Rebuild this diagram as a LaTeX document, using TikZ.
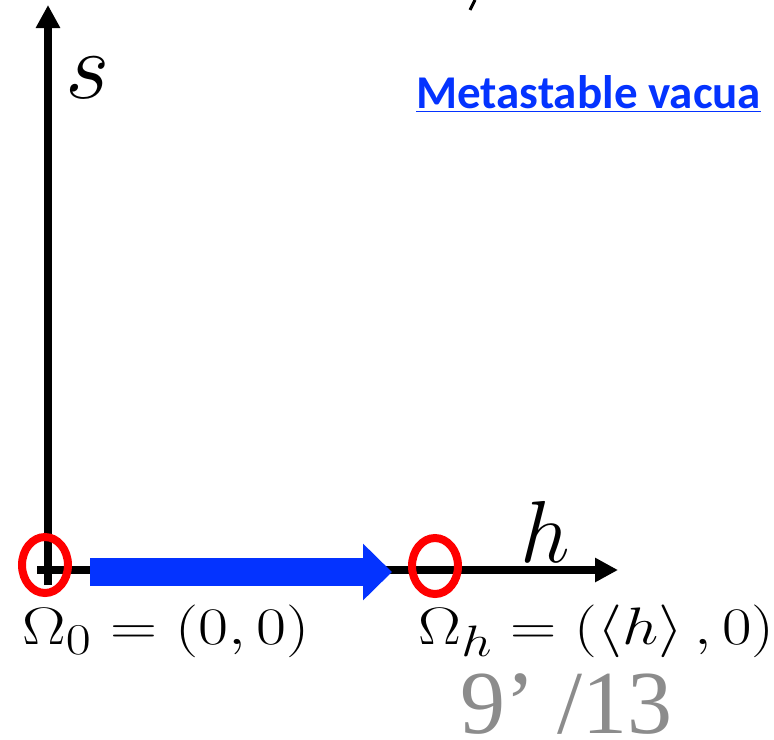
\documentclass[tikz,border=0pt]{standalone}
\usepackage{fix-cm}
\usepackage{fontspec}
\usetikzlibrary{arrows.meta,shapes.geometric}
\newfontfamily\slidefont{Carlito}
\newfontfamily\pagefont{Liberation Serif}
\definecolor{vacblue}{HTML}{0433FF}
\definecolor{vacred}{HTML}{FF0000}
\definecolor{pagegray}{HTML}{8C8C8C}

\begin{document}
\begin{tikzpicture}[x=0.5pt,y=-0.5pt,
  axis/.style={line width=4.2pt,-{Triangle[length=11.5pt,width=11.5pt]}},
  vacring/.style={ellipse,draw=vacred,line width=4pt,minimum width=23pt,minimum height=28pt,inner sep=0pt},
  flow/.style={vacblue,line width=14pt,-{Triangle[length=14.5pt,width=27.5pt]}},
  mathlabel/.style={anchor=base west,inner sep=0pt,font=\fontsize{24.88}{28}\selectfont}]
\useasboundingbox (0,0) rectangle (774,739);
% axes
\coordinate (sfoot) at (48,585);
\coordinate (stip) at (48,5);
\coordinate (hfoot) at (37,570);
\coordinate (htip) at (618,570);
\draw[axis] (sfoot) -- (stip);
\draw[axis] (hfoot) -- (htip);
\node[anchor=base west,inner sep=0pt,font=\fontsize{48}{50}\selectfont] (slabel) at (65,98) {$s$};
\node[anchor=base west,inner sep=0pt,font=\fontsize{44}{46}\selectfont] (hlabel) at (520,562) {$h$};
% tunnelling from the false vacuum
\coordinate (flowstart) at (90,572);
\coordinate (flowend) at (392,572);
\draw[flow] (flowstart) -- (flowend);
\node[vacring] (omega0) at (45,565) {};
\node[vacring] (omegah) at (435,566) {};
\node[mathlabel] (omega0label) at (22,644) {\scalebox{1.31}[1.06]{$\Omega_0 = (0,0)$}};
\node[mathlabel] (omegahlabel) at (418,644) {\scalebox{1.29}[1.06]{$\Omega_h = (\left\langle h\right\rangle,0)$}};
% slide texts
\node[anchor=base west,inner sep=0pt,text=vacblue,font=\slidefont\bfseries\fontsize{23.5}{26}\selectfont] (title) at (416,108) {\underline{Metastable vacua}};
\node[anchor=base west,inner sep=0pt,text=pagegray,font=\pagefont\fontsize{45}{48}\selectfont] (pagenum) at (460,733) {9’ /13};
\draw[line width=1.5pt] (470,10) -- (475,0);
\end{tikzpicture}
\end{document}
